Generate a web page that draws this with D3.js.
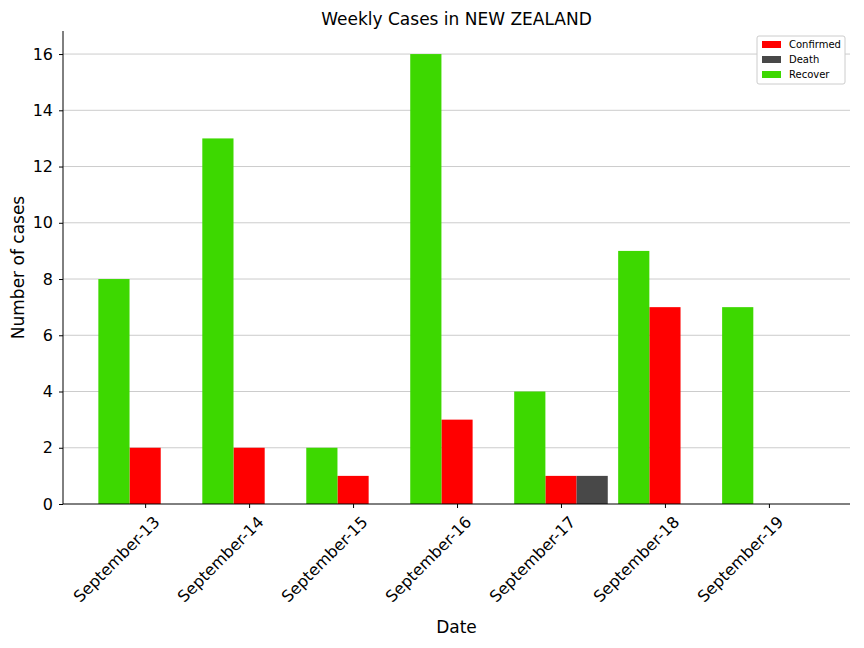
<!DOCTYPE html>
<html><head><meta charset="utf-8">
<script src="https://cdn.jsdelivr.net/npm/d3@7"></script>
<style>body{margin:0;background:#fff;font-family:"DejaVu Sans",sans-serif}</style>
</head><body><div id="viz"></div>
<script>
const dates     = ["September-13","September-14","September-15","September-16","September-17","September-18","September-19"];
const recovered = [8, 13, 2, 16, 4, 9, 7];
const confirmed = [2, 2, 1, 3, 1, 7, 0];
const deaths    = [0, 0, 0, 0, 1, 0, 0];
const yTicks    = [0, 2, 4, 6, 8, 10, 12, 14, 16];

const W = 864, H = 648;
const m = { left: 63, right: 14, top: 31, bottom: 144 };
const svg = d3.select("#viz").append("svg").attr("width", W).attr("height", H);

const x = d3.scaleLinear().domain([-0.79, 6.78]).range([m.left, W - m.right]);
const y = d3.scaleLinear().domain([0, 16.82]).range([H - m.bottom, m.top]);
const bw = 0.3;

// grid
svg.append("g").selectAll("line").data(yTicks.slice(1)).join("line")
  .attr("x1", m.left).attr("x2", W - m.right)
  .attr("y1", d => y(d)).attr("y2", d => y(d))
  .attr("stroke", "#cccccc").attr("stroke-width", 1);

const series = [
  { name: "Confirmed", vals: confirmed, off: 0, color: "#ff0000" },
  { name: "Death", vals: deaths, off: bw, color: "#484848" },
  { name: "Recover", vals: recovered, off: -bw, color: "#3dd800" }
];
series.forEach(s => {
  svg.append("g").selectAll("rect").data(s.vals).join("rect")
    .attr("x", (d, i) => x(i + s.off - bw / 2))
    .attr("width", x(bw) - x(0))
    .attr("y", d => y(d))
    .attr("height", d => y(0) - y(d))
    .attr("fill", s.color);
});

// axes
const gy = svg.append("g").attr("transform", `translate(${m.left},0)`)
  .call(d3.axisLeft(y).tickValues(yTicks).tickSize(4).tickPadding(6));
const gx = svg.append("g").attr("transform", `translate(0,${H - m.bottom})`)
  .call(d3.axisBottom(x).tickValues(d3.range(dates.length)).tickFormat(i => dates[i]).tickSize(4).tickPadding(6));
[gx, gy].forEach(g => {
  g.selectAll("text").attr("font-size", 16).attr("font-family", "DejaVu Sans").attr("fill", "#000");
  g.selectAll("line,path").attr("stroke", "#000");
});
gx.select(".domain").attr("d", `M${m.left},0H${W - m.right}`);
gy.select(".domain").attr("d", `M0,${y(0)}V${m.top}`);
gx.selectAll("text").attr("text-anchor", "end")
  .attr("transform", "translate(4,8) rotate(-45)").attr("dy", "0.35em");

svg.append("text").attr("x", (m.left + W - m.right) / 2).attr("y", 25)
  .attr("text-anchor", "middle").attr("font-size", 17).text("Weekly Cases in NEW ZEALAND");
svg.append("text").attr("x", (m.left + W - m.right) / 2).attr("y", 633)
  .attr("text-anchor", "middle").attr("font-size", 17).text("Date");
svg.append("text").attr("transform", `translate(24,${(m.top + H - m.bottom) / 2}) rotate(-90)`)
  .attr("text-anchor", "middle").attr("font-size", 17).text("Number of cases");

// legend
const lg = svg.append("g").attr("transform", "translate(757,36)");
lg.append("rect").attr("width", 88).attr("height", 48).attr("rx", 2)
  .attr("fill", "#fff").attr("stroke", "#ccc");
series.forEach((s, i) => {
  lg.append("rect").attr("x", 5).attr("y", 5 + i * 15).attr("width", 19).attr("height", 7).attr("fill", s.color);
  lg.append("text").attr("x", 32).attr("y", 12 + i * 15).attr("font-size", 10).text(s.name);
});
</script></body></html>
